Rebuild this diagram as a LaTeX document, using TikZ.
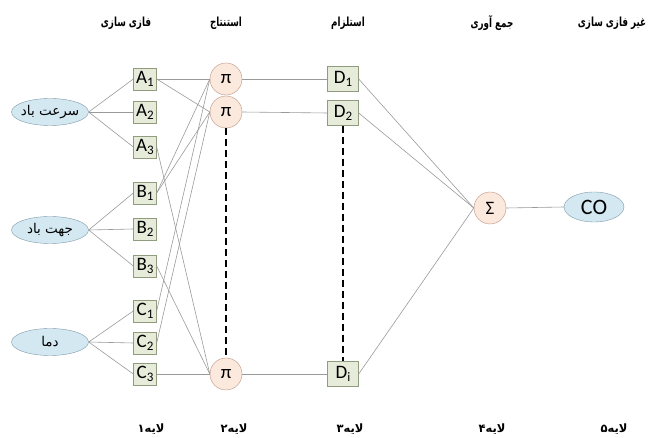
\documentclass[tikz,border=0pt]{standalone}
\usepackage{fontspec}
\setmainfont{Carlito}
\newfontfamily\fa[Script=Arabic]{DejaVu Sans}
\TeXXeTstate=1
\usetikzlibrary{shapes.geometric}
\definecolor{varfill}{HTML}{D3E8F1}
\definecolor{varline}{HTML}{7F9AAA}
\definecolor{mffill}{HTML}{E6EBDA}
\definecolor{mfline}{HTML}{8F9C7E}
\definecolor{opfill}{HTML}{FBE9DE}
\definecolor{opline}{HTML}{BC927D}
\definecolor{wirec}{HTML}{9A9A9A}
\newcommand\ix[2]{#1\raisebox{-0.4ex}{\fontsize{13}{14}\selectfont #2}}
\newcommand\fatxt[1]{\makebox[0pt]{\beginR #1\endR}}
\newcommand\hdtxt[1]{\scalebox{0.7}[1]{\beginR #1\endR}}
\begin{document}
\begin{tikzpicture}[x=1pt,y=-1pt,
var/.style={ellipse,draw=varline,fill=varfill,minimum width=77pt,minimum height=27pt,inner sep=0pt,font=\fa\fontsize{13.5}{15}\selectfont},
mf/.style={draw=mfline,fill=mffill,minimum width=23pt,minimum height=22pt,inner sep=0pt,font=\fontsize{19}{21}\selectfont},
op/.style={circle,draw=opline,fill=opfill,minimum size=32pt,inner sep=0pt,font=\fontsize{19}{21}\selectfont},
wire/.style={draw=wirec,line width=0.6pt},
gapline/.style={line width=2pt,dash pattern=on 7pt off 4pt},
hdr/.style={font=\fa\bfseries\fontsize{12.5}{14}\selectfont},
lay/.style={font=\fa\bfseries\fontsize{11.5}{13}\selectfont}]
\useasboundingbox (0,0) rectangle (657,438);
% headers
\node[hdr] (h1) at (126,23) {\hdtxt{فازی سازی}};
\node[hdr] (h2) at (226,23) {\hdtxt{استنتاج}};
\node[hdr] (h3) at (348,23) {\hdtxt{استلزام}};
\node[hdr] (h4) at (492,23) {\hdtxt{جمع آوری}};
\node[hdr] (h5) at (612,23) {\hdtxt{غیر فازی سازی}};
% inputs
\node[var] (wind) at (50,112) {\fatxt{سرعت باد}};
\node[var] (dir) at (50,230) {\fatxt{جهت باد}};
\node[var] (temp) at (50,342) {\fatxt{دما}};
% layer 1
\node[mf] (A1) at (145,79) {\ix{A}{1}};
\node[mf] (A2) at (145,112) {\ix{A}{2}};
\node[mf] (A3) at (145,147) {\ix{A}{3}};
\node[mf] (B1) at (145,193) {\ix{B}{1}};
\node[mf] (B2) at (145,229) {\ix{B}{2}};
\node[mf] (B3) at (145,266) {\ix{B}{3}};
\node[mf] (C1) at (145,311) {\ix{C}{1}};
\node[mf] (C2) at (145,343) {\ix{C}{2}};
\node[mf] (C3) at (145,374) {\ix{C}{3}};
% layer 2
\node[op] (p1) at (226,79) {π};
\node[op] (p2) at (226,112) {π};
\node[op] (pi) at (226,374) {π};
% layer 3
\node[mf,minimum width=31pt,minimum height=25pt] (D1) at (343,79) {\ix{D}{1}};
\node[mf,minimum width=31pt,minimum height=25pt] (D2) at (343,113) {\ix{D}{2}};
\node[mf,minimum width=31pt,minimum height=25pt] (Di) at (343,374) {\ix{D}{i}};
% layer 4, 5
\node[op] (sum) at (490,208) {Σ};
\node[var,minimum width=60pt,minimum height=30pt,font=\fontsize{22}{24}\selectfont] (co) at (594,207) {CO};

\draw[wire] (wind.east) -- (A1.west);
\draw[wire] (wind.east) -- (A2.west);
\draw[wire] (wind.east) -- (A3.west);
\draw[wire] (dir.east) -- (B1.west);
\draw[wire] (dir.east) -- (B2.west);
\draw[wire] (dir.east) -- (B3.west);
\draw[wire] (temp.east) -- (C1.west);
\draw[wire] (temp.east) -- (C2.west);
\draw[wire] (temp.east) -- (C3.west);
\draw[wire] (A1.east) -- (p1.west);
\draw[wire] (A1.east) -- (p2.west);
\draw[wire] (B1.east) -- (p1.west);
\draw[wire] (B1.east) -- (p2.west);
\draw[wire] (C1.east) -- (p1.west);
\draw[wire] (C2.east) -- (p2.west);
\draw[wire] (A3.east) -- (pi.west);
\draw[wire] (B3.east) -- (pi.west);
\draw[wire] (C3.east) -- (pi.west);
\draw[wire] (p1.east) -- (D1.west);
\draw[wire] (p2.east) -- (D2.west);
\draw[wire] (pi.east) -- (Di.west);
\draw[wire] (D1.east) -- (sum.west);
\draw[wire] (D2.east) -- (sum.west);
\draw[wire] (Di.east) -- (sum.west);
\draw[wire] (sum.east) -- (co.west);
\draw[gapline] (p2.south) -- (pi.north);
\draw[gapline] (D2.south) -- (Di.north);
% layer names
\node[lay] (l1) at (151,429) {\beginR لایه۱\endR};
\node[lay] (l2) at (234,429) {\beginR لایه۲\endR};
\node[lay] (l3) at (350,429) {\beginR لایه۳\endR};
\node[lay] (l4) at (492,429) {\beginR لایه۴\endR};
\node[lay] (l5) at (614,429) {\beginR لایه۵\endR};
\end{tikzpicture}
\end{document}
